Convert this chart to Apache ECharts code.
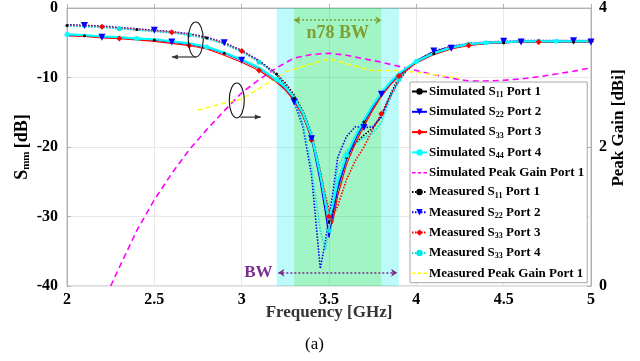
<!DOCTYPE html>
<html><head><meta charset="utf-8">
<script src="https://cdn.jsdelivr.net/npm/echarts@6/dist/echarts.min.js"></script>
<style>html,body{margin:0;padding:0;background:#fff}#c{width:640px;height:361px}</style>
</head><body><div id="c"></div>
<script>
// ---------- data ----------
const freq = [2.0,2.1,2.2,2.3,2.4,2.5,2.6,2.7,2.8,2.9,3.0,3.1,3.2,3.25,3.3,3.35,3.4,3.45,3.48,3.5,3.52,3.55,3.6,3.65,3.7,3.75,3.8,3.85,3.9,3.95,4.0,4.1,4.2,4.3,4.4,4.5,4.6,4.7,4.8,4.9,5.0];
const simS11 = [-3.9,-4.0,-4.2,-4.3,-4.5,-4.6,-4.9,-5.2,-5.7,-6.5,-7.5,-8.7,-10.4,-11.5,-13.0,-15.2,-18.5,-24.0,-28.0,-31.0,-29.0,-25.5,-21.5,-18.8,-16.4,-14.3,-12.4,-10.9,-9.6,-8.6,-7.8,-6.6,-5.8,-5.3,-5.1,-5.0,-4.9,-4.9,-4.9,-4.9,-4.9];
const simS22 = [-3.9,-4.0,-4.2,-4.3,-4.5,-4.6,-4.9,-5.2,-5.7,-6.5,-7.5,-8.7,-10.4,-11.6,-13.1,-15.4,-18.8,-25.0,-29.5,-33.0,-30.0,-26.0,-21.8,-19.0,-16.5,-14.3,-12.4,-10.9,-9.6,-8.6,-7.8,-6.6,-5.8,-5.3,-5.1,-5.0,-4.9,-4.9,-4.9,-4.9,-4.9];
const simS33 = [-4.0,-4.1,-4.3,-4.4,-4.6,-4.8,-5.1,-5.4,-5.9,-6.8,-7.8,-9.0,-10.7,-11.8,-13.3,-15.5,-18.7,-23.8,-27.5,-30.0,-31.0,-27.0,-22.5,-19.5,-17.0,-14.7,-12.7,-11.1,-9.8,-8.8,-7.9,-6.7,-5.9,-5.4,-5.1,-5.0,-4.9,-4.9,-4.9,-4.9,-4.9];
const simS44 = [-3.8,-3.9,-4.1,-4.2,-4.4,-4.5,-4.8,-5.1,-5.6,-6.4,-7.4,-8.6,-10.3,-11.4,-12.9,-15.1,-18.3,-24.0,-28.0,-30.5,-28.5,-25.0,-21.2,-18.5,-16.1,-14.0,-12.2,-10.7,-9.4,-8.5,-7.7,-6.5,-5.7,-5.2,-5.0,-4.9,-4.8,-4.8,-4.8,-4.8,-4.8];
const measS11 = [-2.5,-2.6,-2.7,-2.9,-3.1,-3.3,-3.5,-3.8,-4.3,-5.1,-6.2,-7.6,-9.5,-10.8,-12.5,-14.8,-18.0,-23.5,-28.0,-31.0,-29.5,-26.0,-21.5,-19.5,-18.3,-17.3,-15.5,-12.5,-10.0,-8.6,-7.6,-6.3,-5.6,-5.2,-5.0,-4.9,-4.8,-4.8,-4.8,-4.8,-4.8];
const measS22 = [-2.4,-2.5,-2.6,-2.8,-3.0,-3.2,-3.4,-3.7,-4.2,-5.0,-6.1,-7.6,-9.6,-11.2,-13.5,-17.0,-24.0,-37.5,-33.5,-30.0,-27.0,-21.5,-18.5,-17.1,-17.2,-17.1,-15.7,-12.8,-10.5,-8.8,-7.6,-6.2,-5.5,-5.1,-4.9,-4.8,-4.7,-4.7,-4.7,-4.7,-4.7];
const measS33 = [-2.5,-2.6,-2.7,-2.9,-3.1,-3.3,-3.5,-3.8,-4.3,-5.1,-6.2,-7.7,-9.6,-11.0,-12.8,-15.0,-19.0,-23.5,-27.0,-29.0,-30.0,-28.5,-24.7,-22.0,-20.0,-17.5,-15.2,-12.8,-10.3,-8.7,-7.7,-6.4,-5.7,-5.2,-5.0,-4.9,-4.8,-4.8,-4.8,-4.8,-4.8];
const measS44 = [-2.6,-2.7,-2.8,-3.0,-3.2,-3.4,-3.6,-3.9,-4.4,-5.2,-6.3,-7.8,-9.7,-11.1,-13.0,-16.5,-22.9,-32.0,-34.8,-32.0,-28.5,-23.0,-20.5,-19.5,-18.7,-18.0,-16.5,-13.0,-10.3,-8.7,-7.7,-6.4,-5.7,-5.2,-5.0,-4.9,-4.8,-4.8,-4.8,-4.8,-4.8];
const gainSimFreq = [2.25,2.3,2.4,2.5,2.6,2.7,2.8,2.9,3.0,3.1,3.2,3.3,3.4,3.5,3.6,3.7,3.8,3.9,4.0,4.1,4.2,4.3,4.4,4.5,4.6,4.7,4.8,4.9,5.0];
const gainSim = [0,0.27,0.8,1.24,1.62,1.96,2.25,2.52,2.78,2.97,3.14,3.28,3.33,3.35,3.32,3.27,3.22,3.16,3.10,3.04,2.99,2.95,2.95,2.96,2.98,3.01,3.05,3.09,3.14];
const gainMeasFreq = [2.75,2.85,3.0,3.1,3.2,3.25,3.35,3.5,3.6,3.7,3.75,3.8,3.9,3.95,4.1,4.25];
const gainMeas = [2.53,2.6,2.69,2.84,3.0,3.08,3.16,3.27,3.2,3.13,3.1,3.1,3.1,3.09,3.04,2.99];
const xTicks = [2,2.5,3,3.5,4,4.5,5];
const leftTicks = [-40,-30,-20,-10,0];
const rightTicks = [0,2,4];
const bwBand = [3.2,3.9];
const n78Band = [3.3,3.8];

// ---------- chart ----------
const FONT = '"Liberation Serif","Times New Roman",serif';
const chart = echarts.init(document.getElementById('c'), null, {renderer:'canvas'});
const pts = (xs, ys) => xs.map((x,i)=>[x, ys[i]]);
const mk = (off, size) => (v, p) => {
  const f = v[0]; const k = Math.round(f*10);
  return (Math.abs(f*10 - k) < 1e-6 && k % 4 === off) ? size : 0;
};
const names = ['simS11','simS22','simS33','simS44','simPG','measS11','measS22','measS33','measS44','measPG'];
const labels = {
  simS11:'Simulated S{sub|11} Port 1', simS22:'Simulated S{sub|22} Port 2',
  simS33:'Simulated S{sub|33} Port 3', simS44:'Simulated S{sub|44} Port 4',
  simPG:'Simulated Peak Gain Port 1',
  measS11:'Measured S{sub|11} Port 1', measS22:'Measured S{sub|22} Port 2',
  measS33:'Measured S{sub|33} Port 3', measS44:'Measured S{sub|33} Port 4',
  measPG:'Measured Peak Gain Port 1'
};
const dashIcon = 'path://M0,0h5v2h-5z M8,0h5v2h-5z M16,0h5v2h-5z';
function sSeries(name, data, color, dotted, symbol, size, off, width, extra) {
  return Object.assign({
    name, type:'line', data: pts(freq, data), yAxisIndex:0,
    symbol, symbolSize: mk(off, size), showAllSymbol:true,
    lineStyle:{color, width: width, type: dotted ? [1.5,1.5] : 'solid'},
    itemStyle:{color}, emphasis:{disabled:true}, animation:false, z:3
  }, extra||{});
}
const series = [
  { type:'line', name:'bands', data:[], yAxisIndex:0, silent:true, z:1,
    markArea:{ silent:true, data:[
      [{xAxis:bwBand[0], itemStyle:{color:'rgba(0,238,238,0.26)'}},{xAxis:n78Band[0]}],
      [{xAxis:n78Band[1], itemStyle:{color:'rgba(0,238,238,0.26)'}},{xAxis:bwBand[1]}],
      [{xAxis:n78Band[0], itemStyle:{color:'rgba(0,226,92,0.37)'}},{xAxis:n78Band[1]}]
    ]},
    markLine:{ silent:true, symbol:['arrow','arrow'], symbolSize:[6,6], label:{show:false},
      data:[
        [{coord:[bwBand[0]+0.01,-38.1], lineStyle:{color:'#7b2e8f', type:[2,2], width:1.5}},{coord:[bwBand[1]-0.01,-38.1]}],
        [{coord:[n78Band[0],-1.75], lineStyle:{color:'#7f9f30', type:[2,2], width:1.5}},{coord:[n78Band[1],-1.75]}]
      ]}
  },
  { name:'simPG', type:'line', yAxisIndex:1, data: pts(gainSimFreq, gainSim), symbol:'none',
    lineStyle:{color:'#ff00ff', width:1.6, type:[6,4]}, itemStyle:{color:'#ff00ff'}, z:2, animation:false },
  { name:'measPG', type:'line', yAxisIndex:1, data: pts(gainMeasFreq, gainMeas), symbol:'none',
    lineStyle:{color:'#ffff00', width:1.4, type:[5,3]}, itemStyle:{color:'#ffff00'}, z:2, animation:false },
  sSeries('measS11', measS11, '#000000', true, 'circle', 3, 0, 1.6),
  sSeries('measS22', measS22, '#0000ff', true, 'triangle', 7, 1, 1.6, {symbolRotate:180}),
  sSeries('measS33', measS33, '#ff0000', true, 'diamond', 6, 2, 1.6),
  sSeries('measS44', measS44, '#00e5e5', true, 'circle', 5, 3, 1.6),
  sSeries('simS11', simS11, '#000000', false, 'circle', 3, 1, 1.2),
  sSeries('simS22', simS22, '#0000ff', false, 'triangle', 7, 2, 1.2, {symbolRotate:180}),
  sSeries('simS33', simS33, '#ff0000', false, 'diamond', 6, 3, 1.2),
  sSeries('simS44', simS44, '#00ffff', false, 'circle', 5, 0, 2.2)
];
const axisLabel = {color:'#000', fontFamily:FONT, fontWeight:'bold', fontSize:16};
chart.setOption({
  animation:false,
  grid:{left:67, right:49, top:8, bottom:75, show:true, borderColor:'#b8b8b8', borderWidth:1, backgroundColor:'transparent'},
  xAxis:{type:'value', min:2, max:5, interval:0.5,
    axisLine:{lineStyle:{color:'#b0b0b0'}}, axisTick:{inside:true, length:4, lineStyle:{color:'#b0b0b0'}},
    splitLine:{show:true, lineStyle:{color:'#e8e8e8'}},
    axisLabel:Object.assign({margin:6, formatter:v=>xTicks.indexOf(v)>=0?String(v):''}, axisLabel),
    name:'Frequency [GHz]', nameLocation:'middle', nameGap:18, nameMoveOverlap:false,
    nameTextStyle:{color:'#333', fontFamily:FONT, fontWeight:'bold', fontSize:17}},
  yAxis:[
    {type:'value', min:-40, max:0, interval:10, position:'left',
     axisLine:{show:true, lineStyle:{color:'#b0b0b0'}}, axisTick:{show:true, inside:true, length:4, lineStyle:{color:'#b0b0b0'}},
     splitLine:{show:true, lineStyle:{color:'#e8e8e8'}},
     axisLabel:Object.assign({margin:9, formatter:v=>leftTicks.indexOf(v)>=0?String(v):''}, axisLabel),
     name:'{s|S}{sub|mm} {s|[dB]}', nameLocation:'middle', nameGap:35, nameRotate:90, nameMoveOverlap:false,
     nameTextStyle:{color:'#000', rich:{
       s:{fontFamily:FONT, fontWeight:'bold', fontSize:18, color:'#000'},
       sub:{fontFamily:FONT, fontWeight:'bold', fontSize:11, color:'#000', padding:[9,0,0,0]}}}},
    {type:'value', min:0, max:4, interval:2, position:'right',
     axisLine:{show:true, lineStyle:{color:'#b0b0b0'}}, axisTick:{show:true, inside:true, length:4, lineStyle:{color:'#b0b0b0'}},
     splitLine:{show:false},
     axisLabel:Object.assign({margin:8, formatter:v=>rightTicks.indexOf(v)>=0?String(v):''}, axisLabel),
     name:'Peak Gain [dBi]', nameLocation:'middle', nameGap:19, nameRotate:90, nameMoveOverlap:false,
     nameTextStyle:{color:'#000', fontFamily:FONT, fontWeight:'bold', fontSize:17, padding:[0,0,0,38]}}
  ],
  legend:{
    data:names.map(n => n.endsWith('PG') ? {name:n, icon:dashIcon} : {name:n}),
    orient:'vertical', left:410, top:82, backgroundColor:'#fff',
    borderColor:'#a8a8a8', borderWidth:1, borderRadius:0, padding:[3,3,3,1], itemGap:6.3,
    itemWidth:15, itemHeight:8, selectedMode:false,
    formatter:n=>labels[n],
    textStyle:{color:'#000', fontFamily:FONT, fontWeight:'bold', fontSize:13, padding:[0,0,0,-3],
      rich:{sub:{fontFamily:FONT, fontWeight:'bold', fontSize:8, color:'#000', padding:[7,0,0,0]}}}
  },
  title:{text:'(a)', left:305, top:336, textStyle:{fontFamily:FONT, fontWeight:'normal', fontSize:17, color:'#000'}, padding:0},
  series
});

// ---------- annotations (in data coordinates) ----------
const toPx = (x,y,yi) => chart.convertToPixel({xAxisIndex:0, yAxisIndex:yi||0}, [x,y]);
const e1 = toPx(2.737,-4.53), e2 = toPx(2.972,-13.3);
const a1s = toPx(2.74,-7.05), a1e = toPx(2.60,-7.05);
const a2s = toPx(2.993,-15.7), a2e = toPx(3.11,-15.7);
const n78t = toPx(3.55,-3.6), bwt = toPx(3.2,-38.1);
function arrow(s,e){
  const dir = Math.sign(e[0]-s[0]);
  return [
    {type:'line', shape:{x1:s[0],y1:s[1],x2:e[0],y2:e[1]}, style:{stroke:'#333', lineWidth:1.2}, z:100},
    {type:'polygon', shape:{points:[[e[0],e[1]],[e[0]-dir*6,e[1]-2.5],[e[0]-dir*6,e[1]+2.5]]}, style:{fill:'#333'}, z:100}
  ];
}
chart.setOption({graphic:[
  {type:'ellipse', shape:{cx:e1[0], cy:e1[1], rx:7.5, ry:17.5}, style:{fill:'none', stroke:'#111', lineWidth:1.1}, z:100},
  {type:'ellipse', shape:{cx:e2[0], cy:e2[1], rx:7.5, ry:17.5}, style:{fill:'none', stroke:'#111', lineWidth:1.1}, z:100},
  ...arrow(a1s,a1e), ...arrow(a2s,a2e),
  {type:'text', x:n78t[0], y:n78t[1], style:{text:'n78 BW', fill:'#7f9f30', font:'bold 18px '+FONT, align:'center', verticalAlign:'middle'}, z:100},
  {type:'text', x:bwt[0]-4, y:bwt[1], style:{text:'BW', fill:'#7b2e8f', font:'bold 17px '+FONT, align:'right', verticalAlign:'middle'}, z:100}
]});
</script></body></html>
